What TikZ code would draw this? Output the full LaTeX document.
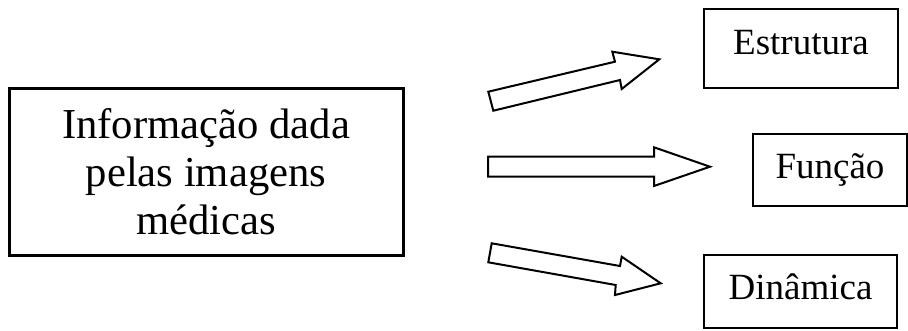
\documentclass[tikz,border=0pt]{standalone}
\usepackage{fontspec}
\setmainfont{Liberation Serif}
\usetikzlibrary{arrows,backgrounds}

\begin{document}
\begin{tikzpicture}[x=0.75pt,y=0.75pt,yscale=-1,xscale=1,
  infobox/.style={draw, line width=2.25pt, minimum width=295.5pt, minimum height=125.25pt, inner sep=0pt, align=center, font=\fontsize{32}{36}\selectfont},
  tagbox/.style={draw, line width=1pt, inner sep=0pt, font=\fontsize{27.75}{30}\selectfont},
  blockarrow/.style={draw, line width=1.5pt, miter limit=20}]
%set diagram left start at 0, and has height of 330
\useasboundingbox (0,0) rectangle (908,330);

%Shape: Rectangle (main box)
\node [infobox] (info) at (206,171.5) {Informação dada\\pelas imagens\\médicas};

%Shape: Rectangle (Estrutura)
\node [tagbox, minimum width=145.5pt, minimum height=59.25pt, text height=20pt, text depth=11.75pt] (estrutura) at (801,48.5) {Estrutura};
%Shape: Rectangle (Função)
\node [tagbox, minimum width=115.5pt, minimum height=54pt, text height=20pt, text depth=8pt] (funcao) at (830,170) {Função};
%Shape: Rectangle (Dinâmica)
\node [tagbox, minimum width=144.75pt, minimum height=54.75pt, text height=20pt, text depth=8.75pt] (dinamica) at (800.5,291.5) {Dinâmica};

%Right Arrow (up)
\draw [blockarrow] (488.3,91.7) -- (615,61.7) -- (612.3,51.7) -- (659.3,59.3) -- (621.7,89) -- (620,80) -- (493.3,110.7) -- cycle ;
%Right Arrow (middle)
\draw [blockarrow] (488,156.7) -- (654,156.7) -- (654,147.3) -- (710,166.7) -- (654,186) -- (654,176.7) -- (488,176.7) -- cycle ;
%Right Arrow (down)
\draw [blockarrow] (491.7,243.3) -- (620,266) -- (621.7,256.7) -- (660.7,283.3) -- (615,295) -- (615.7,285) -- (488.3,262.3) -- cycle ;

\end{tikzpicture}
\end{document}
